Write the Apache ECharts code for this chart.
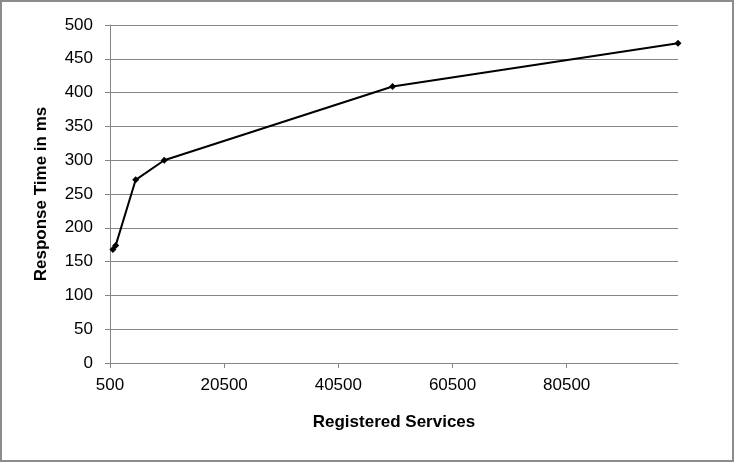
<!DOCTYPE html>
<html><head><meta charset="utf-8">
<script src="https://cdn.jsdelivr.net/npm/echarts@6/dist/echarts.min.js"></script>
<style>html,body{margin:0;padding:0;background:#fff}#c{width:734px;height:462px;box-sizing:border-box;border:2px solid #8c8c8c}</style>
</head><body><div id="c"></div>
<script>
var services = [1000, 1500, 5000, 10000, 50000, 100000];
var responseMs = [168, 174, 271, 300, 409, 473];
var xTitle = 'Registered Services';
var yTitle = 'Response Time in ms';
var chart = echarts.init(document.getElementById('c'));
var pts = services.map(function(v,i){return [v, responseMs[i]];});
var font = '"Liberation Sans", Arial, sans-serif';
chart.setOption({
  animation:false,
  grid:{left:108,right:54,top:23,bottom:97,containLabel:false},
  xAxis:{type:'value',min:500,max:100000,interval:20000,
    name:xTitle,nameLocation:'middle',nameGap:51,
    nameTextStyle:{fontFamily:font,fontSize:17,fontWeight:'bold',color:'#000'},
    axisLine:{show:true,lineStyle:{color:'#868686'}},
    axisTick:{show:true,inside:false,length:5,lineStyle:{color:'#868686'}},
    axisLabel:{showMaxLabel:false,fontFamily:font,fontSize:17,color:'#000',margin:14,
      formatter:function(v){return String(v);}},
    splitLine:{show:false}},
  yAxis:{type:'value',min:0,max:500,interval:50,
    name:yTitle,nameLocation:'middle',nameGap:60,nameRotate:90,
    nameTextStyle:{fontFamily:font,fontSize:17,fontWeight:'bold',color:'#000'},
    axisLine:{show:true,lineStyle:{color:'#868686'}},
    axisTick:{show:true,length:5,lineStyle:{color:'#868686'}},
    axisLabel:{fontFamily:font,fontSize:17,color:'#000',margin:17},
    splitLine:{show:true,lineStyle:{color:'#868686',width:1}}},
  series:[{type:'line',data:pts,symbol:'diamond',symbolSize:7,
    lineStyle:{color:'#000',width:2},itemStyle:{color:'#000'}}]
});
</script></body></html>
